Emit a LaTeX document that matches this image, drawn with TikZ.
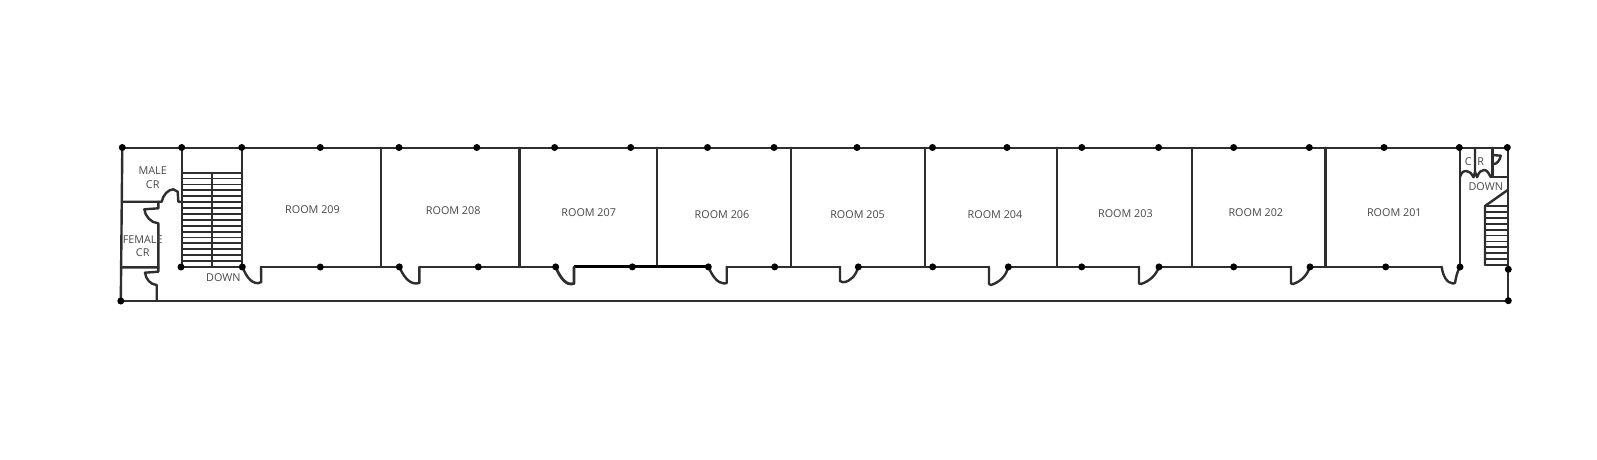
\documentclass[tikz,border=0pt]{standalone}
\usepackage{fontspec}
\setmainfont{Open Sans}
\definecolor{wallc}{HTML}{2E2E2E}
\definecolor{textc}{HTML}{484848}
\tikzset{
  wall/.style={draw=wallc,line width=2.4pt,line cap=round,line join=round},
  thin wall/.style={draw=wallc,line width=2pt,line cap=round,line join=round},
  thick wall/.style={draw=black,line width=3pt},
  tread/.style={draw=wallc,line width=1.8pt},
  dot/.style={fill=black,draw=none,circle,minimum size=7pt,inner sep=0pt},
  lbl/.style={text=textc,font=\fontsize{10.8}{13}\selectfont,inner sep=0pt,align=center}
}
\begin{document}
\begin{tikzpicture}[x=1pt,y=-1pt]
\useasboundingbox[fill=white] (0,0) rectangle (1597,459);
% outer walls
\draw[wall] (122.3,147.8) -- (1507.7,147.8);
\draw[wall] (120.8,301) -- (1508,301);
\draw[wall] (122.3,147.8) -- (120.8,301);
\draw[wall] (1507.7,147.8) -- (1507.7,301);
% room partitions
\foreach \x in {241.7,381,519.3,657,791,925,1057,1192,1325.5,1460}
  \draw[wall] (\x,147.8) -- (\x,267);
\draw[wall] (181.7,147.8) -- (181.7,267);
% corridor wall with doors
\draw[thin wall] (261,266.9) -- (399.3,266.9);
\draw[thin wall] (419.3,266.9) -- (555.7,266.9);
\draw[thick wall] (574,266.9) -- (708.3,266.9);
\draw[thin wall] (726.7,266.9) -- (840,266.9);
\draw[thin wall] (858.3,266.9) -- (989,266.9);
\draw[thin wall] (1008.3,266.9) -- (1139,266.9);
\draw[thin wall] (1159,266.9) -- (1291,266.9);
\draw[thin wall] (1310,266.9) -- (1441.7,266.9);
% doors
\draw[wall] (242.3,267) .. controls (246,275) and (250,283) .. (258,283.2) -- (261.3,282) -- (261,266.9);
\draw[wall] (399.3,266.9) .. controls (403,275) and (408,283.3) .. (416,283.5) -- (419.3,283) -- (419.3,266.9);
\draw[wall,line width=2.8pt] (555.7,266.9) .. controls (559,275) and (564,283.8) .. (571,284) -- (574,283.5) -- (574,266.9);
\draw[wall] (708.3,266.9) .. controls (712,275) and (717,283.3) .. (724,283.5) -- (726.7,283) -- (726.7,266.9);
\draw[wall] (840,266.9) -- (840,281) -- (843,282.3) .. controls (851,281.5) and (856,275) .. (858.3,266.9);
\draw[wall] (989,266.9) -- (989,284) -- (991,285) .. controls (1000,282) and (1006,276) .. (1008.3,266.9);
\draw[wall] (1139,266.9) -- (1139,283.5) -- (1141,284) .. controls (1150,281) and (1156,275) .. (1159,266.9);
\draw[wall] (1291,266.9) -- (1291,283.5) -- (1293,284) .. controls (1302,281) and (1307,275) .. (1310,266.9);
\draw[wall] (1441.7,266.9) .. controls (1442.5,275) and (1447,283.5) .. (1453,283.5) -- (1455,283) .. controls (1456,277) and (1457,272) .. (1460,266.9);
% left washrooms
\draw[wall] (122,201.7) -- (161.7,201.7) .. controls (163,195) and (168,189.5) .. (173.3,189.3) -- (177.7,191.7) -- (178.3,201.7) -- (181.7,201.7);
\draw[wall] (158.3,201.7) -- (158.3,208.3) -- (144.3,209.3) .. controls (145,216) and (151,223) .. (158.3,223.3) -- (158.3,267.3);
\draw[wall] (121.5,267.3) -- (158.3,267.3) -- (158.3,271.7) -- (145,272.7) .. controls (146,279) and (150,284.5) .. (156.7,285) -- (156.7,301);
% left stairs
\foreach \i in {0,...,16}
  \draw[tread] (181.7,{172.7+\i*5.89}) -- (241.7,{172.7+\i*5.89});
\draw[wall] (211.7,172.7) -- (211.7,267);
% right CR block
\draw[wall] (1460,176.7) .. controls (1462,170.5) and (1465,171) .. (1466.5,171) .. controls (1470,171) and (1471.5,174) .. (1473.5,177.2) -- (1475,172) -- (1475,147.8);
\draw[wall] (1475,172) -- (1477,177.2) .. controls (1479,172) and (1481,170) .. (1484,170) .. controls (1487,170) and (1488.5,173) .. (1490.5,176.7);
\draw[wall] (1492.3,147.8) -- (1492.3,176.7);
\draw[wall] (1490.5,176.7) -- (1507.7,176.7);
\draw[wall] (1492.3,155) -- (1500.7,155.7) .. controls (1500,160) and (1497,163.5) .. (1494.5,164);
% right stairs
\foreach \i in {0,...,10}
  \draw[tread] (1485,{206+\i*5.9}) -- (1507.7,{206+\i*5.9});
\draw[wall] (1485,265) -- (1485,206) -- (1507.7,190);
% columns
\foreach \x/\y in {122.3/147.5,181.7/147.5,241.7/147.5,320.3/147.5,399/147.5,476.8/147.5,554.6/147.5,630.7/147.5,707.5/147.5,774/147.5,857/147.5,932.5/147.5,1007/147.5,1081.8/147.5,1158.6/147.5,1233.6/147.5,1309.3/147.5,1384/147.5,1459.3/147.5,1507.3/147.5,
 120.8/301,1508.3/300.7,1508.3/269.3,
 181/267,242.3/267,320.3/267,399.3/266.9,478.3/266.9,555.7/266.9,632.3/266.9,708.3/266.9,774.7/266.9,858.3/266.9,932.7/266.9,1008.3/266.9,1081.7/266.9,1159/266.9,1233.7/266.9,1310/266.9,1385.7/266.9,1460/267}
  \node[dot] at (\x,\y) {};
% labels
\node[lbl] (r209) at (312.5,209.7) {ROOM 209};
\node[lbl] (r208) at (453.2,211) {ROOM 208};
\node[lbl] (r207) at (588.7,212.5) {ROOM 207};
\node[lbl] (r206) at (722,214.6) {ROOM 206};
\node[lbl] (r205) at (857.6,214.6) {ROOM 205};
\node[lbl] (r204) at (995,214.6) {ROOM 204};
\node[lbl] (r203) at (1125.4,214.1) {ROOM 203};
\node[lbl] (r202) at (1255.8,212.5) {ROOM 202};
\node[lbl] (r201) at (1394.3,213.1) {ROOM 201};
\node[lbl] (male) at (152.7,171) {MALE};
\node[lbl] (malecr) at (152.7,184.5) {CR};
\node[lbl] (female) at (142.7,239.3) {FEMALE};
\node[lbl] (femalecr) at (142.7,252.5) {CR};
\node[lbl] (down1) at (223.3,278) {DOWN};
\node[lbl] (down2) at (1485.7,186.2) {DOWN};
\node[lbl] (c) at (1468.3,161.2) {C};
\node[lbl] (rr) at (1480.7,161.2) {R};
\end{tikzpicture}
\end{document}
